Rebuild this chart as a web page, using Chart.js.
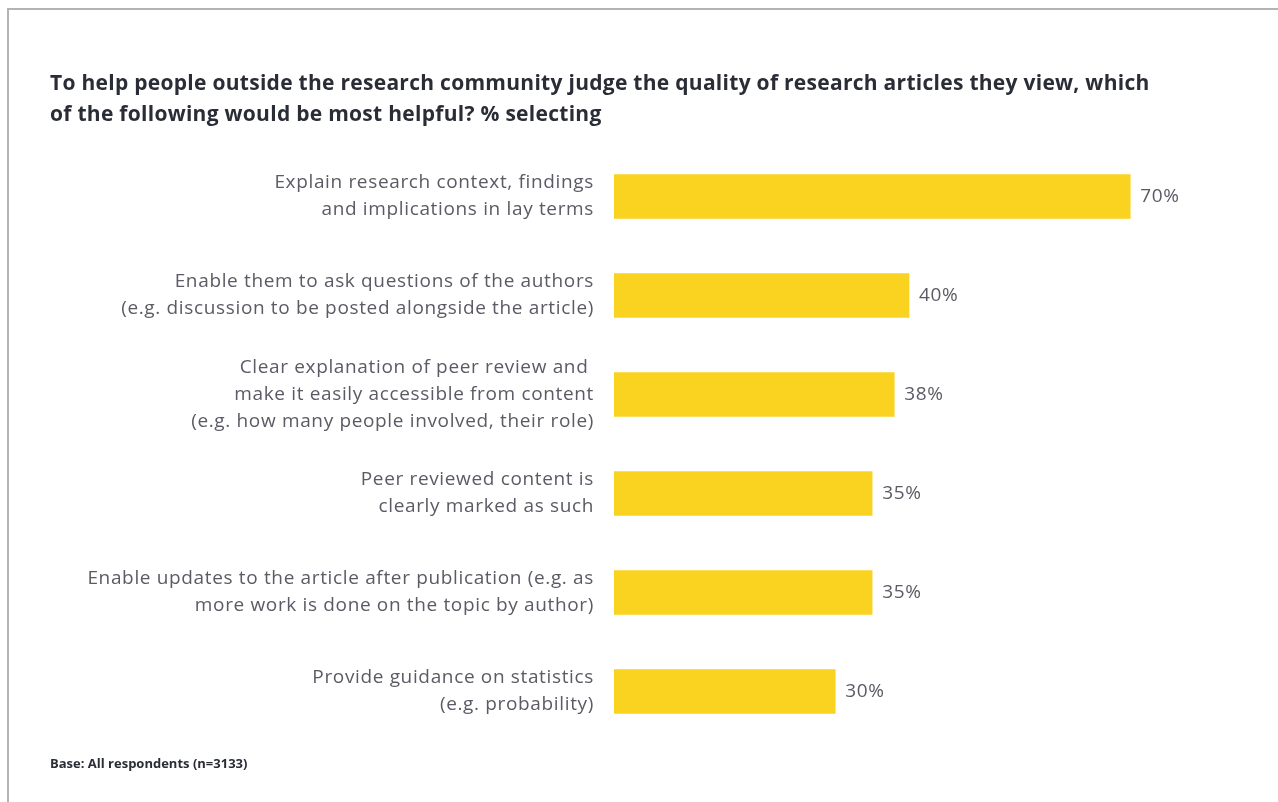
<!DOCTYPE html>
<html>
<head>
<meta charset="utf-8">
<script src="https://cdn.jsdelivr.net/npm/chart.js@4.4.1/dist/chart.umd.min.js"></script>
<style>
    html, body {
        margin: 0;
        padding: 0;
        background: #ffffff;
        width: 1278px;
        height: 802px;
        overflow: hidden;
        font-family: "Open Sans", sans-serif;
    }
    #frame {
        position: absolute;
        left: 7px;
        top: 8px;
        width: 1271px;
        height: 794px;
        border-top: 2px solid #b3b3b3;
        border-left: 2px solid #b3b3b3;
    }
    #titulo {
        position: absolute;
        left: 50px;
        top: 67px;
        width: 1220px;
        font-size: 21px;
        font-weight: 700;
        letter-spacing: 0.28px;
        line-height: 31px;
        color: #2b2d36;
    }
    #base {
        position: absolute;
        left: 50px;
        top: 754px;
        font-size: 13px;
        font-weight: 700;
        color: #2b2d36;
    }
    #grafico {
        position: absolute;
        left: 0;
        top: 0;
    }
</style>
</head>
<body>
<div id="frame"></div>
<canvas id="grafico" width="1278" height="802"></canvas>
<div id="titulo">To help people outside the research community judge the quality of research articles they view, which<br>of the following would be most helpful? % selecting</div>
<div id="base">Base: All respondents (n=3133)</div>

<script>
// categorias (linhas quebradas como na figura)
const categorias = [
    ["Explain research context, findings", "and implications in lay terms"],
    ["Enable them to ask questions of the authors", "(e.g. discussion to be posted alongside the article)"],
    ["Clear explanation of peer review and ", "make it easily accessible from content", "(e.g. how many people involved, their role)"],
    ["Peer reviewed content is", "clearly marked as such"],
    ["Enable updates to the article after publication (e.g. as", "more work is done on the topic by author)"],
    ["Provide guidance on statistics", "(e.g. probability)"]
];

const percentuais = [70, 40, 38, 35, 35, 30];

const corBarra = "#fad220";
const corTexto = "#5a5b64";
const fonte = "Open Sans";

// letras um pouco mais espaçadas, como na figura
const espacamento = {
    id: "espacamento",
    beforeDraw(chart) {
        chart.ctx.letterSpacing = "0.65px";
    }
};

// escreve o valor no fim de cada barra
const rotulosValor = {
    id: "rotulosValor",
    afterDatasetsDraw(chart) {
        const ctx = chart.ctx;
        const meta = chart.getDatasetMeta(0);
        ctx.save();
        ctx.font = "400 19px '" + fonte + "'";
        ctx.fillStyle = corTexto;
        ctx.textAlign = "left";
        ctx.textBaseline = "middle";
        meta.data.forEach((barra, i) => {
            ctx.fillText(percentuais[i] + "%", barra.x + 10, barra.y);
        });
        ctx.restore();
    }
};

new Chart(
    document.getElementById("grafico"),
    {
        type: "bar",
        data: {
            labels: categorias,
            datasets: [{
                data: percentuais,
                backgroundColor: corBarra,
                barThickness: 44
            }]
        },
        options: {
            indexAxis: "y",
            responsive: false,
            animation: false,
            layout: {
                padding: {
                    left: 0,
                    right: 74,
                    top: 147,
                    bottom: 61
                }
            },
            plugins: {
                legend: { display: false },
                tooltip: { enabled: false }
            },
            scales: {
                x: {
                    display: false,
                    min: 0,
                    max: 80
                },
                y: {
                    grid: { display: false },
                    border: { display: false },
                    ticks: {
                        padding: 12,
                        color: corTexto,
                        font: {
                            family: fonte,
                            size: 19,
                            weight: "400",
                            lineHeight: 1.42
                        }
                    },
                    afterFit(scale) {
                        scale.width = 614;
                    }
                }
            }
        },
        plugins: [espacamento, rotulosValor]
    }
);
</script>
</body>
</html>
